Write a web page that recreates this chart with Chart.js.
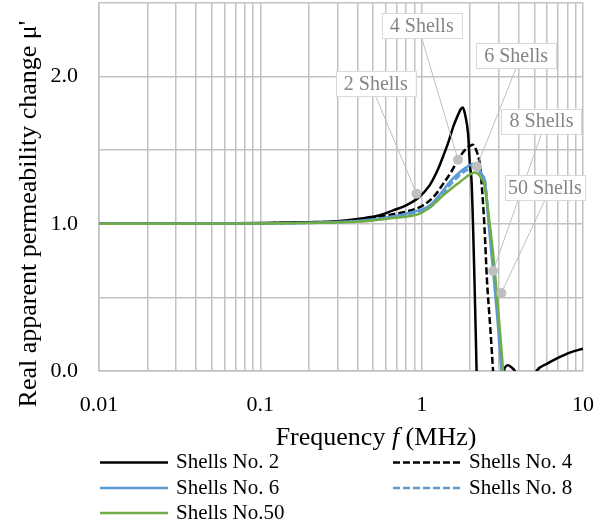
<!DOCTYPE html>
<html>
<head>
<meta charset="utf-8">
<script src="https://cdn.jsdelivr.net/npm/chart.js@4.4.1/dist/chart.umd.min.js"></script>
<style>
html,body{margin:0;padding:0;background:#ffffff;}
#wrap{width:610px;height:529px;}
</style>
</head>
<body>
<div id="wrap"><canvas id="c" width="610" height="529"></canvas></div>
<script>
// ---------------- DATA ----------------
const seriesNames = ['Shells No. 2', 'Shells No. 4', 'Shells No. 6', 'Shells No. 8', 'Shells No.50'];

const freq2 = [0.01, 0.05, 0.1, 0.2, 0.3, 0.413, 0.55, 0.665, 0.8, 0.95, 1.12, 1.25, 1.36, 1.47, 1.57, 1.68, 1.75, 1.80, 1.86, 1.94, 1.99, 2.04, 2.19, 2.3, 2.8, 3.1, 3.23, 3.43, 3.6, 3.78, 4.3, 5.15, 6.0, 6.85, 8.28, 10];
const mu2   = [1.000, 1.002, 1.005, 1.011, 1.018, 1.035, 1.058, 1.091, 1.125, 1.175, 1.261, 1.36, 1.46, 1.56, 1.66, 1.74, 1.78, 1.79, 1.74, 1.61, 1.40, 1.28, 0.0, -1.2, -1.0, -0.3, 0.0, 0.039, 0.025, 0.0, -0.2, 0.0, 0.05, 0.084, 0.125, 0.152];

const freq4 = [0.01, 0.1, 0.2, 0.413, 0.665, 0.85, 1.02, 1.2, 1.36, 1.52, 1.68, 1.85, 2.0, 2.08, 2.16, 2.24, 2.29, 2.35, 2.45, 2.54, 2.66, 2.77, 2.95];
const mu4   = [1.000, 1.004, 1.009, 1.025, 1.065, 1.09, 1.125, 1.19, 1.272, 1.35, 1.435, 1.50, 1.53, 1.537, 1.51, 1.46, 1.41, 1.283, 0.98, 0.616, 0.30, 0.0, -0.5];

const freq6 = [0.01, 0.1, 0.2, 0.413, 0.665, 0.85, 1.12, 1.3, 1.49, 1.7, 1.90, 2.08, 2.2, 2.29, 2.38, 2.46, 2.6, 2.77, 2.95, 3.12, 3.3];
const mu6   = [1.000, 1.003, 1.007, 1.02, 1.05, 1.075, 1.125, 1.2, 1.283, 1.345, 1.385, 1.408, 1.39, 1.363, 1.33, 1.295, 1.0, 0.684, 0.35, 0.0, -0.3];

const freq8 = [0.01, 0.1, 0.2, 0.413, 0.665, 0.85, 1.12, 1.3, 1.49, 1.7, 1.90, 2.08, 2.2, 2.3, 2.4, 2.48, 2.62, 2.80, 2.97, 3.15, 3.3];
const mu8   = [1.000, 1.003, 1.006, 1.018, 1.045, 1.068, 1.11, 1.18, 1.26, 1.325, 1.365, 1.385, 1.375, 1.35, 1.32, 1.28, 1.0, 0.684, 0.36, 0.0, -0.25];

const freq50 = [0.01, 0.1, 0.2, 0.413, 0.665, 0.973, 1.15, 1.36, 1.55, 1.72, 1.9, 2.05, 2.15, 2.25, 2.35, 2.44, 2.52, 2.66, 2.84, 3.02, 3.20, 3.35];
const mu50   = [1.000, 1.002, 1.006, 1.015, 1.04, 1.069, 1.12, 1.193, 1.245, 1.283, 1.32, 1.343, 1.348, 1.335, 1.306, 1.27, 1.17, 0.97, 0.684, 0.34, 0.0, -0.25];

const seriesColors = ['#000000', '#000000', '#5b9bd5', '#5b9bd5', '#70ad47'];
const seriesDashed = [false, true, false, true, false];

const xLabeledTicks = [0.01, 0.1, 1, 10];
const xMinorSteps = [1, 2, 3, 4, 5, 6, 7, 8, 9];
const yLabeledTicks = [0, 1, 2];

const calloutText   = ['2 Shells', '4 Shells', '6 Shells', '8 Shells', '50 Shells'];
const calloutPointF = [0.929, 1.68, 2.20, 2.77, 3.12];
const calloutPointMu = [1.204, 1.435, 1.39, 0.679, 0.530];
const calloutBoxF   = [0.519, 1.001, 3.85, 5.53, 5.80];
const calloutBoxMu  = [1.951, 2.347, 2.143, 1.697, 1.244];

const xTitleParts = ['Frequency ', 'f', ' (MHz)'];
const yTitle = "Real apparent permeability change \u03bc'";

// ---------------- BUILD ----------------
const FONT = "'Liberation Serif', 'Times New Roman', serif";
const freqs = [freq2, freq4, freq6, freq8, freq50];
const mus = [mu2, mu4, mu6, mu8, mu50];

const xGridValues = [];
for (let d = 0; d < xLabeledTicks.length - 1; d++) {
  for (const m of xMinorSteps) xGridValues.push(+(xLabeledTicks[d] * m).toPrecision(6));
}
xGridValues.push(xLabeledTicks[xLabeledTicks.length - 1]);

const datasets = seriesNames.map((name, i) => ({
  label: name,
  data: freqs[i].map((f, k) => ({ x: f, y: mus[i][k] })),
  borderColor: seriesColors[i],
  backgroundColor: seriesColors[i],
  borderWidth: 2.5,
  borderDash: seriesDashed[i] ? [7, 3] : [],
  pointRadius: 0,
  cubicInterpolationMode: 'monotone',
  fill: false,
  order: seriesNames.length - i
}));

const GRID = '#c2c2c2';

const calloutPlugin = {
  id: 'callouts',
  afterDatasetsDraw(chart) {
    const ctx = chart.ctx;
    const xs = chart.scales.x, ys = chart.scales.y;
    ctx.save();
    ctx.font = '20px ' + FONT;
    for (let i = 0; i < calloutText.length; i++) {
      const px = xs.getPixelForValue(calloutPointF[i]);
      const py = ys.getPixelForValue(calloutPointMu[i]);
      const bx = xs.getPixelForValue(calloutBoxF[i]);
      const by = ys.getPixelForValue(calloutBoxMu[i]);
      const w = 80, h = 25;
      ctx.strokeStyle = '#bfbfbf';
      ctx.lineWidth = 1;
      ctx.setLineDash([]);
      ctx.beginPath();
      ctx.moveTo(bx, by + h / 2);
      ctx.lineTo(px, py);
      ctx.stroke();
      ctx.fillStyle = '#bfbfbf';
      ctx.beginPath();
      ctx.arc(px, py, 5, 0, Math.PI * 2);
      ctx.fill();
      ctx.fillStyle = '#ffffff';
      ctx.fillRect(bx - w / 2, by - h / 2, w, h);
      ctx.strokeStyle = '#d9d9d9';
      ctx.strokeRect(Math.round(bx - w / 2) + 0.5, Math.round(by - h / 2) + 0.5, w, h);
      ctx.fillStyle = '#858585';
      ctx.textAlign = 'center';
      ctx.textBaseline = 'middle';
      ctx.fillText(calloutText[i], bx, by + 1);
    }
    ctx.restore();
  }
};

const decorPlugin = {
  id: 'decor',
  afterDraw(chart) {
    const ctx = chart.ctx;
    ctx.save();
    ctx.fillStyle = '#000000';
    ctx.font = '26px ' + FONT;
    ctx.translate(29, 214);
    ctx.rotate(-Math.PI / 2);
    ctx.textAlign = 'center';
    ctx.textBaseline = 'middle';
    ctx.fillText(yTitle, 0, 0);
    ctx.restore();

    ctx.save();
    ctx.fillStyle = '#000000';
    ctx.textBaseline = 'middle';
    ctx.textAlign = 'left';
    const fonts = ['26px ' + FONT, 'italic 26px ' + FONT, '26px ' + FONT];
    let total = 0;
    const widths = xTitleParts.map((t, k) => { ctx.font = fonts[k]; const w = ctx.measureText(t).width; total += w; return w; });
    let x = 376 - total / 2;
    xTitleParts.forEach((t, k) => { ctx.font = fonts[k]; ctx.fillText(t, x, 438); x += widths[k]; });
    ctx.restore();

    ctx.save();
    ctx.font = '21px ' + FONT;
    ctx.textBaseline = 'middle';
    ctx.textAlign = 'left';
    const colX = [100, 393];
    const rowY = [462.5, 488, 513];
    chart.data.datasets.forEach((ds, i) => {
      const cx = colX[i % 2], cy = rowY[Math.floor(i / 2)];
      ctx.strokeStyle = ds.borderColor;
      ctx.lineWidth = ds.borderWidth;
      ctx.setLineDash(ds.borderDash || []);
      ctx.beginPath();
      ctx.moveTo(cx, cy);
      ctx.lineTo(cx + 68, cy);
      ctx.stroke();
      ctx.setLineDash([]);
      ctx.fillStyle = '#000000';
      ctx.fillText(ds.label, cx + 76, cy);
    });
    ctx.restore();
  }
};

new Chart(document.getElementById('c'), {
  type: 'line',
  data: { datasets },
  options: {
    responsive: false,
    devicePixelRatio: 1,
    animation: false,
    layout: { padding: { left: 0, top: 3, right: 27, bottom: 0 } },
    plugins: { legend: { display: false }, tooltip: { enabled: false } },
    scales: {
      x: {
        type: 'logarithmic',
        min: xLabeledTicks[0],
        max: xLabeledTicks[xLabeledTicks.length - 1],
        afterBuildTicks: (s) => { s.ticks = xGridValues.map(v => ({ value: v })); },
        afterFit: (s) => { s.height = 158; s.paddingLeft = 0; s.paddingRight = 0; },
        grid: { color: GRID, lineWidth: 1.5, drawTicks: false },
        border: { display: true, color: GRID, width: 1.5 },
        ticks: {
          autoSkip: false,
          maxRotation: 0,
          minRotation: 0,
          padding: 21,
          color: '#000000',
          font: { family: FONT, size: 22 },
          callback: (v) => xLabeledTicks.some(t => Math.abs(t - v) < t * 1e-6) ? String(v) : ''
        }
      },
      y: {
        type: 'linear',
        min: 0,
        max: 2.5,
        afterFit: (s) => { s.width = 99; s.paddingTop = 0; s.paddingBottom = 0; },
        grid: { color: GRID, lineWidth: 1.5, drawTicks: false },
        border: { display: true, color: GRID, width: 1.5 },
        ticks: {
          stepSize: 0.5,
          padding: 21,
          color: '#000000',
          font: { family: FONT, size: 22 },
          callback: (v) => yLabeledTicks.some(t => Math.abs(t - v) < 1e-9) ? Number(v).toFixed(1) : ''
        }
      }
    }
  },
  plugins: [calloutPlugin, decorPlugin]
});
</script>
</body>
</html>
